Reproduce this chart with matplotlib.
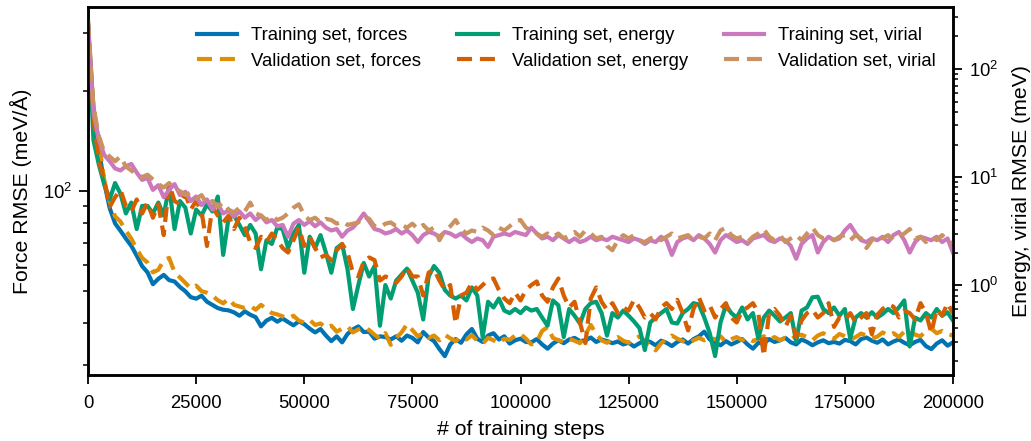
import numpy as np
import matplotlib
matplotlib.use("Agg")
import matplotlib.pyplot as plt
from matplotlib.ticker import LogLocator, NullFormatter

plt.rcParams["font.family"] = ["Liberation Sans", "DejaVu Sans"]
plt.rcParams["mathtext.default"] = "regular"

# training steps (every 1250 steps)
steps = np.arange(0, 200001, 1250)

# force RMSE (meV/A), left axis
train_force = [
    316, 176, 133, 106, 89, 80, 76, 72, 68.5, 64,
    59.5, 57, 52.5, 54.5, 56, 54, 53.5, 51.5, 50, 48,
    47.5, 48.5, 46.5, 45.5, 44.5, 44, 43.8, 43.2, 42.2, 43.5,
    42.5, 41.8, 39.2, 40.8, 41.6, 40.5, 41.4, 40.4, 39.5, 40.6,
    39.8, 38.6, 37.6, 38.5, 36.8, 35.4, 36.6, 35.1, 37.2, 38.4,
    39.2, 37.7, 37.8, 36.0, 36.6, 36.4, 35.8, 36.6, 35.5, 36.8,
    36.2, 35.1, 37.7, 36.3, 35.4, 33.5, 31.9, 34.6, 35.9, 35.0,
    37.1, 38.5, 36.0, 35.2, 36.8, 37.4, 35.8, 36.6, 34.8, 35.6,
    36.0, 35.2, 35.1, 35.9, 34.6, 33.6, 34.8, 35.6, 34.9, 35.8,
    36.2, 35.4, 35.6, 36.3, 35.2, 35.8, 35.4, 34.9, 35.3, 34.6,
    35.0, 34.1, 34.9, 35.6, 35.2, 34.4, 35.5, 35.0, 34.2, 35.2,
    35.8, 34.8, 35.9, 36.6, 37.8, 35.8, 35.0, 34.4, 35.4, 34.6,
    35.2, 35.9, 34.6, 33.6, 35.0, 34.8, 35.9, 35.2, 35.6, 36.2,
    35.1, 34.6, 35.8, 35.2, 34.4, 35.1, 35.6, 34.9, 35.2, 34.8,
    35.7, 35.4, 34.6, 35.9, 36.3, 35.5, 35.0, 35.8, 34.6, 35.3,
    35.8, 35.0, 34.4, 35.2, 35.7, 34.2, 33.5, 34.8, 35.6, 34.3,
    35.1,
]
val_force = [
    300, 180, 140, 108, 93, 84, 81, 76, 72, 67,
    63, 61, 57, 58, 62, 63, 57, 55, 53, 51,
    52, 50, 49.5, 48.5, 47, 46, 47.5, 45.5, 45, 44.5,
    45.2, 44.0, 45.5, 44.2, 43.0, 42.6, 42.0, 41.4, 42.2, 40.8,
    40.2, 41.0, 39.6, 40.0, 38.8, 39.4, 37.8, 38.6, 39.2, 37.6,
    38.4, 39.0, 38.2, 37.0, 36.0, 37.4, 34.5, 36.2, 37.6, 39.8,
    38.2, 36.6, 37.4, 36.2, 36.8, 35.6, 37.0, 36.1, 35.4, 36.4,
    35.8, 36.9, 35.5, 34.8, 36.2, 35.6, 34.9, 36.0, 35.7, 36.8,
    37.2, 36.0, 34.6, 35.2, 38.0, 39.0, 36.2, 35.6, 35.2, 36.0,
    35.5, 34.9, 37.0, 39.6, 37.2, 35.6, 35.0, 35.8, 36.4, 35.5,
    35.0, 35.8, 36.6, 35.2, 34.6, 33.2, 34.9, 35.8, 36.8, 36.0,
    35.4, 34.8, 35.6, 36.2, 35.6, 36.3, 35.8, 36.6, 35.2, 35.9,
    36.4, 35.6, 36.2, 35.4, 36.0, 36.6, 35.8, 36.4, 35.6, 36.2,
    35.7, 36.8, 37.0, 36.4, 35.6, 36.8, 37.4, 36.5, 36.0, 37.2,
    36.6, 35.8, 36.4, 37.3, 36.8, 36.1, 36.5, 37.6, 36.8, 37.4,
    36.4, 37.8, 38.2, 37.0, 36.6, 38.0, 38.6, 37.4, 38.0, 37.2,
    36.8,
]

# energy RMSE (meV), right axis
train_energy = [
    270, 22, 13, 8.5, 6.2, 8.8, 7.0, 4.6, 5.8, 3.3,
    5.4, 5.4, 4.6, 5.8, 4.4, 8.2, 3.3, 6.0, 5.2, 3.0,
    5.0, 4.4, 5.6, 4.8, 6.6, 1.9, 4.2, 4.4, 3.6, 2.9,
    3.6, 3.0, 1.4, 2.6, 2.4, 3.4, 3.3, 2.2, 3.0, 3.6,
    1.3, 2.8, 2.2, 2.9, 2.0, 1.3, 2.2, 2.4, 1.4, 0.6,
    1.0, 1.6, 1.2, 1.5, 0.42, 1.0, 0.75, 1.1, 1.25, 1.42,
    1.1, 0.85, 0.48, 1.2, 1.5, 1.3, 0.9, 0.8, 0.75, 0.8,
    0.72, 0.95, 0.8, 0.33, 0.7, 0.62, 0.75, 0.58, 0.55, 0.6,
    0.55, 0.62, 0.58, 0.6, 0.5, 0.42, 0.72, 0.65, 0.33, 0.6,
    0.52, 0.44, 0.6, 0.68, 0.7, 0.55, 0.34, 0.55, 0.5, 0.58,
    0.52, 0.46, 0.4, 0.25, 0.45, 0.5, 0.55, 0.6, 0.45, 0.44,
    0.55, 0.6, 0.68, 0.66, 0.5, 0.36, 0.22, 0.45, 0.65, 0.55,
    0.5, 0.62, 0.48, 0.55, 0.32, 0.5, 0.58, 0.52, 0.46, 0.5,
    0.55, 0.3, 0.58, 0.62, 0.77, 0.78, 0.6, 0.55, 0.62, 0.52,
    0.6, 0.32, 0.5, 0.55, 0.5, 0.56, 0.5, 0.54, 0.6, 0.55,
    0.62, 0.72, 0.27, 0.5, 0.47, 0.55, 0.5, 0.6, 0.52, 0.56,
    0.47,
]
val_energy = [
    255, 35, 14, 9.5, 5.3, 6.5, 7.6, 5.4, 4.8, 6.2,
    4.6, 5.8, 4.2, 5.6, 2.9, 8.6, 6.0, 5.6, 7.0, 5.0,
    6.0, 4.8, 2.3, 5.3, 4.4, 3.8, 4.4, 3.3, 4.2, 3.4,
    2.5, 2.2, 2.8, 2.5, 3.0, 2.6, 2.2, 2.0, 2.6, 3.4,
    2.3, 2.8, 2.2, 1.8, 1.9, 1.7, 2.1, 2.4, 2.0, 1.3,
    1.2, 1.65, 1.8, 1.7, 1.1, 1.2, 1.15, 1.05, 1.2, 1.45,
    1.2, 1.2, 0.8, 1.3, 1.4, 1.1, 0.9, 1.0, 0.44, 0.8,
    0.85, 1.05, 0.9, 1.0, 1.12, 1.15, 0.9, 0.75, 0.68, 0.85,
    0.72, 0.9, 1.0, 1.08, 0.8, 0.7, 0.95, 1.15, 0.8, 0.62,
    0.7, 0.45, 0.29, 0.75, 0.95, 0.7, 0.59, 0.68, 0.55, 0.62,
    0.58, 0.73, 0.62, 0.5, 0.55, 0.48, 0.62, 0.68, 0.6, 0.73,
    0.55, 0.38, 0.6, 0.77, 0.58, 0.65, 0.5, 0.6, 0.68, 0.5,
    0.45, 0.58, 0.62, 0.68, 0.55, 0.22, 0.55, 0.6, 0.52, 0.41,
    0.52, 0.33, 0.47, 0.55, 0.59, 0.5, 0.55, 0.68, 0.41, 0.5,
    0.47, 0.55, 0.45, 0.5, 0.55, 0.35, 0.53, 0.6, 0.66, 0.63,
    0.5, 0.58, 0.55, 0.48, 0.68, 0.55, 0.36, 0.6, 0.52, 0.68,
    0.55,
]

# virial RMSE (meV), right axis
train_virial = [
    260, 40, 22, 16, 14, 12, 11.5, 12.6, 13.2, 11.0,
    9.4, 9.8, 7.6, 8.4, 6.5, 7.6, 8.6, 6.8, 7.3, 6.0,
    6.6, 5.5, 6.2, 5.0, 5.6, 4.6, 4.9, 4.3, 4.8, 4.2,
    4.6, 4.0, 4.4, 3.8, 4.0, 3.5, 3.6, 2.8, 3.7, 4.0,
    3.6, 3.9, 3.5, 3.8, 3.4, 3.2, 3.3, 2.8, 3.2, 3.4,
    3.9, 4.6, 3.9, 3.3, 3.2, 3.0, 3.1, 3.3, 3.0, 3.2,
    2.9, 2.5, 2.9, 3.1, 3.0, 2.8, 3.1, 3.0, 2.8, 3.0,
    2.7, 2.5, 2.7, 2.6, 2.25, 2.8, 2.9, 3.0, 2.9, 3.1,
    3.0, 2.9, 3.4, 3.0, 2.7, 2.8, 2.6, 2.9, 2.7, 2.5,
    2.7, 2.5, 2.6, 2.8, 2.6, 2.7, 2.6, 2.8, 2.7, 2.6,
    2.5, 2.7, 2.6, 2.4, 2.6, 2.5, 2.8, 2.6, 1.9, 2.5,
    2.7, 2.8, 2.6, 2.9, 2.7, 2.4, 2.0, 2.6, 2.9, 2.7,
    2.5, 2.6, 2.4, 2.7, 2.8, 2.9, 2.6, 2.5, 2.7, 2.6,
    2.3, 1.75, 2.4, 2.7, 2.9, 2.0, 2.5, 2.8, 2.6, 2.7,
    3.2, 3.6, 3.0, 2.6, 2.5, 2.7, 2.6, 2.8, 2.5, 2.9,
    3.1, 2.6, 2.0, 2.5, 2.8, 2.7, 2.6, 2.8, 2.5, 2.7,
    2.0,
]
val_virial = [
    280, 45, 24, 17, 15.5, 14, 15.5, 12.5, 11.5, 10.5,
    10.0, 10.5, 9.5, 8.6, 8.0, 8.8, 7.8, 7.4, 6.8, 7.2,
    6.3, 6.8, 5.6, 6.0, 5.3, 5.8, 5.0, 4.7, 5.2, 4.8,
    5.8, 4.6, 4.4, 4.0, 4.4, 4.0, 4.2, 4.6, 5.2, 5.6,
    4.4, 4.0, 4.2, 3.8, 4.1, 4.0, 3.7, 3.9, 3.6, 3.7,
    3.8, 4.3, 4.1, 3.5, 3.4, 3.7, 3.8, 3.5, 3.6, 3.4,
    3.7, 3.3, 3.6, 3.2, 3.4, 2.6, 3.2, 3.5, 4.0, 3.3,
    3.0, 3.2, 3.1, 3.4, 3.2, 2.9, 3.4, 3.2, 3.5, 3.9,
    4.0, 3.4, 3.2, 3.0, 2.8, 3.0, 2.8, 3.0, 2.7, 2.9,
    3.1, 2.8, 3.2, 3.0, 2.7, 2.8, 2.3, 2.1, 2.6, 2.9,
    2.7, 2.9, 2.6, 2.5, 2.7, 2.8, 2.6, 2.8, 3.0, 2.7,
    2.8, 2.9, 2.6, 2.8, 2.7, 3.0, 2.6, 3.2, 3.4, 2.9,
    2.7, 2.8, 2.5, 2.8, 3.0, 3.3, 2.8, 2.6, 2.9, 2.5,
    2.7, 2.9, 2.6, 3.0, 3.4, 2.9, 2.7, 2.8, 2.6, 2.8,
    2.9, 2.6, 2.9, 2.7, 2.2, 2.6, 2.9, 2.7, 2.9, 2.6,
    2.8, 3.0, 3.3, 2.7, 2.8, 2.5, 2.8, 2.6, 2.9, 2.6,
    2.4,
]

colors = ["#0173b2", "#de8f05", "#029e73", "#d55e00", "#cc78bc", "#ca9161"]
lw = 3.0
dash = (3.6, 1.9)

fig = plt.figure(figsize=(10.31, 4.41), dpi=100)
ax = fig.add_subplot(111)
fig.subplots_adjust(left=0.0854, right=0.9243, bottom=0.1497, top=0.9841)
ax2 = ax.twinx()

l1, = ax.plot(steps, train_force, color=colors[0], lw=lw,
              label="Training set, forces")
l2, = ax.plot(steps, val_force, color=colors[1], lw=lw, dashes=dash,
              label="Validation set, forces")
l3, = ax2.plot(steps, train_energy, color=colors[2], lw=lw,
               label="Training set, energy")
l4, = ax2.plot(steps, val_energy, color=colors[3], lw=lw, dashes=dash,
               label="Validation set, energy")
l5, = ax2.plot(steps, train_virial, color=colors[4], lw=lw,
               label="Training set, virial")
l6, = ax2.plot(steps, val_virial, color=colors[5], lw=lw, dashes=dash,
               label="Validation set, virial")

ax.set_yscale("log")
ax2.set_yscale("log")
ax.set_xlim(0, 200000)
ax.set_ylim(28, 358)
ax2.set_ylim(0.147, 375)
ax.set_xticks(np.arange(0, 200001, 25000))

for a in (ax, ax2):
    a.yaxis.set_minor_locator(LogLocator(base=10, subs=np.arange(2, 10)))
    a.yaxis.set_minor_formatter(NullFormatter())
    a.tick_params(which="major", length=6.5, width=1.3, labelsize=13.3,
                  pad=5)
    a.tick_params(which="minor", length=3.5, width=1.1)
    for s in a.spines.values():
        s.set_linewidth(1.8)

ax.tick_params(axis="x", pad=8)
ax.set_xlabel("# of training steps", fontsize=15.3, labelpad=6)
ax.set_ylabel("Force RMSE (meV/Å)", fontsize=15.3, labelpad=8)
ax2.set_ylabel("Energy, virial RMSE (meV)", fontsize=15.3, labelpad=9.5)

handles = [l1, l2, l3, l4, l5, l6]
ax2.legend(handles=handles, loc="upper center", bbox_to_anchor=(0.553, 0.99),
           ncol=3, frameon=False, fontsize=13.3, handlelength=2.2,
           handletextpad=0.75, columnspacing=1.95, labelspacing=0.45)

fig.savefig("out.png", dpi=100)
